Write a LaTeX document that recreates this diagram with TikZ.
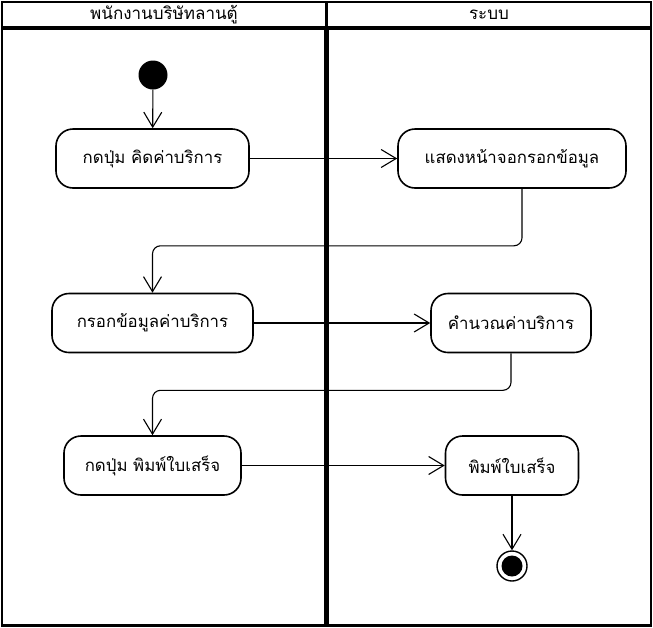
\documentclass[tikz,border=0pt]{standalone}
\usepackage{fontspec}
\newfontfamily\thaifont[Script=Thai]{Loma}
\usetikzlibrary{arrows.meta}
\begin{document}
\begin{tikzpicture}
[x=1pt,y=-1pt,
  lanedecorate/.style={draw,line width=2.6pt},
  headdecorate/.style={draw,line width=1.4pt},
  titledecorate/.style={font=\thaifont\fontsize{17}{19}\selectfont},
  actiondecorate/.style={shape=rectangle,rounded corners=17pt,draw,line width=1.6pt,
    minimum height=59pt,inner sep=0pt,font=\thaifont\fontsize{16.8}{19}\selectfont},
  arrowdecorate/.style={-{Straight Barb[length=15pt,width=18pt,line width=1.1pt]},line width=1.1pt,rounded corners=8pt}]
\useasboundingbox (0,0) rectangle (653,627);
%% swimlanes
\draw[headdecorate] (2,2) rectangle (326,27);
\draw[headdecorate] (327,2) rectangle (651,27);
\draw[lanedecorate] (2,28.5) rectangle (325.5,625.5);
\draw[lanedecorate] (327.5,28.5) rectangle (651,625.5);
\node (staff) at (164,15) [titledecorate] {พนักงานบริษัทลานตู้};
\node (system) at (489,15) [titledecorate] {ระบบ};
%% nodes or vertices
\foreach \nodename/\x/\y/\w/\label in {calc/152.5/158.5/193/{กดปุ่ม คิดค่าบริการ},
  show/512/158.5/228/{แสดงหน้าจอกรอกข้อมูล}, fill/152.5/323/201/{กรอกข้อมูลค่าบริการ},
  compute/511/323/160/{คำนวณค่าบริการ}, press/152.5/465.5/177/{กดปุ่ม พิมพ์ใบเสร็จ},
  receipt/512/465.5/133/{พิมพ์ใบเสร็จ}} {
  \node (\nodename) at (\x,\y) [actiondecorate,minimum width=\w pt] {\label};
}
\node (start) at (153,75) [shape=circle,fill,minimum size=29pt,inner sep=0pt] {};
\node (stop) at (512,566) [shape=circle,draw,line width=1.4pt,minimum size=30pt,inner sep=0pt] {};
\node (stopdot) at (stop) [shape=circle,fill,minimum size=21pt,inner sep=0pt] {};
%% edges or lines
\path
\foreach \startnode/\endnode in {start/calc, calc/show, fill/compute, press/receipt, receipt/stop} {
  (\startnode) edge[arrowdecorate] (\endnode)
};
\draw[arrowdecorate] ([xshift=10pt]show.south) -- ++(0,57) -| (fill.north);
\draw[arrowdecorate] (compute.south) -- ++(0,37) -| (press.north);
\end{tikzpicture}
\end{document}
